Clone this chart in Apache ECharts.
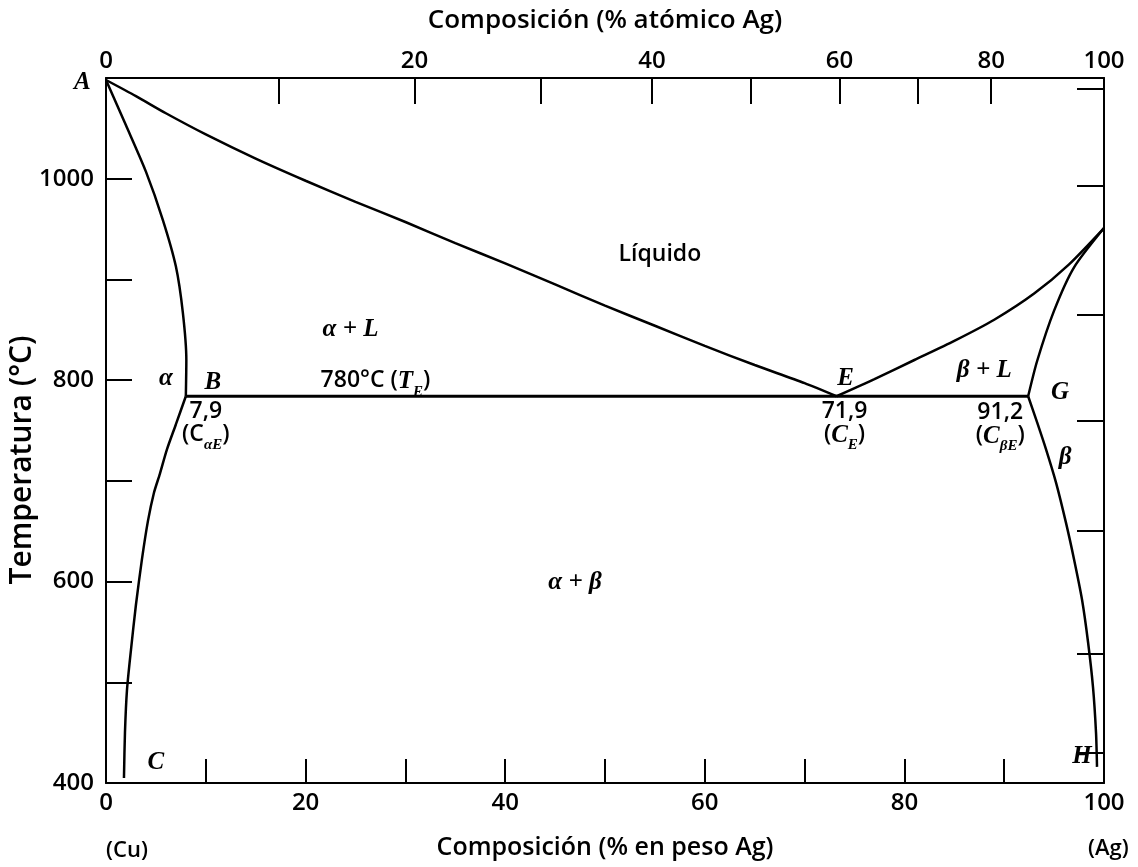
<!DOCTYPE html>
<html>
<head>
<meta charset="UTF-8">
<title>Diagrama de fases Cu-Ag</title>
<script src="https://cdn.jsdelivr.net/npm/echarts@6/dist/echarts.min.js"></script>
</head>
<body style="margin:0;background:#fff">
<div id="chart" style="width:1138px;height:867px;"></div>
<script>
var liquidusCu = [[0,1098],[3,1082],[6,1065],[10,1044],[15,1020],[20,998],[25,977],[30,957],[35,936],[40,916],[45,895],[50,874],[55,854],[60,834],[65,815],[70,797],[73.2,784]];
var solidusCu = [[0,1098],[2.0,1053],[4.0,1007],[5.7,959],[7.0,913],[7.7,867],[8.05,820],[8.0,784]];
var solvusCu = [[8.0,784],[7.0,756],[6.1,731],[5.4,707],[4.8,688],[4.2,660],[3.6,622],[3.0,577],[2.5,532],[2.1,492],[1.9,450],[1.8,405]];
var liquidusAg = [[73.2,784],[77,801],[81,820],[85,839],[89,860],[93,886],[96.5,915],[100,951]];
var solidusAg = [[92.4,784],[93.3,819],[95.0,869],[97.0,912],[100,951]];
var solvusAg = [[92.4,784],[93.3,758],[94.2,731],[95.2,698],[96.2,658],[97.0,622],[97.8,582],[98.4,540],[98.9,495],[99.2,450],[99.3,416]];
var eutectic = [[8.0,784],[92.4,784]];

// eje superior (% atomico) puesto sobre la escala en peso
var topLabels = ['0','20','40','60','80','100'];
var topLabelPos = [0,30.9,54.7,73.5,88.7,100];
var topTickPos = [17.3,30.9,43.6,54.7,64.6,73.5,81.3,88.7];
var bottomLabelPos = [0,20,40,60,80,100];
// marcas del eje derecho (°C)
var rightTicks = [1089,993,865,760,650,528,430];

var INK = '#000';
var serif = 'Liberation Serif';
var sans = 'Open Sans';

var rich = {
	n: {fontFamily: sans, fontWeight: 600, fontSize: 23, color: INK, verticalAlign: 'top'},
	it: {fontFamily: serif, fontStyle: 'italic', fontWeight: 'bold', fontSize: 25, color: INK, verticalAlign: 'top'},
	g: {fontFamily: serif, fontStyle: 'italic', fontWeight: 'bold', fontSize: 25, color: INK, verticalAlign: 'top'},
	sub: {fontFamily: serif, fontStyle: 'italic', fontWeight: 'bold', fontSize: 15, color: INK, lineHeight: 30, verticalAlign: 'bottom'}
};

// rotulos dentro del diagrama
var labels = [
	[6.0, 802, '{g|α}'],
	[10.7, 798, '{it|B}'],
	[27.0, 796, '{n|780°C (}{it|T}{sub|E}{n|)}'],
	[24.5, 850, '{g|α + L}'],
	[10.0, 754, '{n|7,9}\n{n|(C}{sub|αE}{n|)}'],
	[55.5, 925, '{n|Líquido}'],
	[74.1, 802, '{it|E}'],
	[74.0, 754, '{n|71,9}\n{n|(}{it|C}{sub|E}{n|)}'],
	[88.0, 810, '{g|β + L}'],
	[95.6, 788, '{it|G}'],
	[89.6, 753, '{n|91,2}\n{n|(}{it|C}{sub|βE}{n|)}'],
	[96.1, 723, '{g|β}'],
	[47.0, 599, '{g|α + β}'],
	[5.0, 420, '{it|C}'],
	[97.8, 426, '{it|H}']
];

function curve(name, data, w) {
	return {
		name: name,
		type: 'line',
		data: data,
		symbol: 'none',
		smooth: 0.25,
		lineStyle: {color: INK, width: w || 2.5},
		silent: true,
		z: 3
	};
}

var axisFont = {fontFamily: sans, fontWeight: 600, fontSize: 24, color: INK};
var nameFont = {fontFamily: sans, fontWeight: 600, fontSize: 25, color: INK};

var chart = echarts.init(document.getElementById('chart'));
var option = {
	backgroundColor: '#fff',
	animation: false,
	grid: {left: 106, right: 34, top: 78, bottom: 84, containLabel: false, outerBoundsMode: 'none'},
	xAxis: [
		{
			type: 'value', position: 'bottom', min: 0, max: 100, interval: 10,
			name: 'Composición (% en peso Ag)', nameLocation: 'middle', nameGap: 52,
			nameTextStyle: nameFont,
			axisLine: {onZero: false, lineStyle: {color: INK, width: 2}},
			axisTick: {inside: true, length: 24, lineStyle: {color: INK, width: 2}},
			axisLabel: Object.assign({customValues: bottomLabelPos, margin: 8}, axisFont),
			splitLine: {show: false}
		},
		{
			type: 'value', position: 'top', min: 0, max: 100,
			name: 'Composición (% atómico Ag)', nameLocation: 'middle', nameGap: 44,
			nameTextStyle: Object.assign({}, nameFont, {fontSize: 26}),
			axisLine: {onZero: false, lineStyle: {color: INK, width: 2}},
			axisTick: {inside: true, length: 26, customValues: topTickPos, lineStyle: {color: INK, width: 2}},
			axisLabel: Object.assign({
				customValues: topLabelPos, margin: 5,
				formatter: function (v) {
					var i = topLabelPos.indexOf(v);
					return i < 0 ? '' : topLabels[i];
				}
			}, axisFont),
			splitLine: {show: false}
		}
	],
	yAxis: [
		{
			type: 'value', position: 'left', min: 400, max: 1100, interval: 100,
			axisLine: {onZero: false, lineStyle: {color: INK, width: 2}},
			axisTick: {inside: true, length: 26, lineStyle: {color: INK, width: 2}},
			axisLabel: Object.assign({
				margin: 12,
				formatter: function (v) { return v % 200 === 0 ? v : ''; }
			}, axisFont),
			splitLine: {show: false}
		},
		{
			type: 'value', position: 'right', min: 400, max: 1100,
			axisLine: {show: true, onZero: false, lineStyle: {color: INK, width: 2}},
			axisTick: {inside: true, length: 27, customValues: rightTicks, lineStyle: {color: INK, width: 2}},
			axisLabel: {show: false},
			splitLine: {show: false}
		}
	],
	graphic: [
		{type: 'text', x: 22, y: 460, rotation: Math.PI / 2,
			style: {text: 'Temperatura (°C)', font: '600 30px "Open Sans"', fill: INK, align: 'center', verticalAlign: 'middle'}},
		{type: 'text', left: 74, top: 70, style: {text: 'A', font: 'italic bold 25px "Liberation Serif"', fill: INK}},
		{type: 'text', left: 106, top: 840, style: {text: '(Cu)', font: '600 22px "Open Sans"', fill: INK}},
		{type: 'text', left: 1088, top: 838, style: {text: '(Ag)', font: '600 22px "Open Sans"', fill: INK}}
	],
	series: [
		curve('liquidus Cu', liquidusCu),
		curve('solidus Cu', solidusCu),
		curve('solvus Cu', solvusCu),
		curve('liquidus Ag', liquidusAg),
		curve('solidus Ag', solidusAg),
		curve('solvus Ag', solvusAg),
		curve('eutectica', eutectic, 3),
		{
			type: 'scatter',
			symbolSize: 0,
			silent: true,
			z: 5,
			itemStyle: {opacity: 1},
			data: labels.map(function (d) {
				return {value: [d[0], d[1]], label: {formatter: d[2]}};
			}),
			label: {show: true, position: 'inside', align: 'center', verticalAlign: 'middle', color: INK, opacity: 1, rich: rich}
		}
	]
};
chart.setOption(option);
</script>
</body>
</html>
